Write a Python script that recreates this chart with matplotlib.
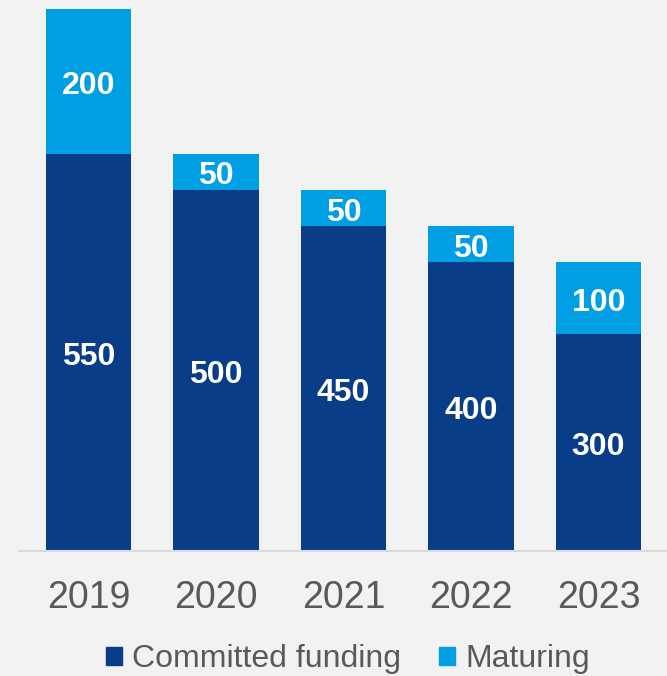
import matplotlib.pyplot as plt
import numpy as np
from matplotlib.patches import Patch

years = ['2019', '2020', '2021', '2022', '2023']
committed = [550, 500, 450, 400, 300]
maturing = [200, 50, 50, 50, 100]

dark = '#0a3d87'
light = '#009fe3'
bg = '#f2f2f2'

plt.rcParams['font.family'] = ['Liberation Sans', 'DejaVu Sans']

fig = plt.figure(figsize=(6.67, 6.76), dpi=100, facecolor=bg)
ax = fig.add_axes([19 / 667, 125 / 676, 648 / 667, 542 / 676], facecolor=bg)

x = np.arange(len(years))
w = 0.667
ax.bar(x, committed, w, color=dark, label='Committed funding')
ax.bar(x, maturing, w, bottom=committed, color=light, label='Maturing')

# labels in the middle of each segment (nudged down a little)
for i in range(len(years)):
    ax.annotate(str(committed[i]), (x[i], committed[i] / 2), xytext=(0, -3.5),
                textcoords='offset points', ha='center', va='center',
                color='white', fontsize=23, fontweight='bold')
    ax.annotate(str(maturing[i]), (x[i], committed[i] + maturing[i] / 2), xytext=(0, -3.5),
                textcoords='offset points', ha='center', va='center',
                color='white', fontsize=23, fontweight='bold')

ax.set_xlim(-0.545, 4.537)
ax.set_ylim(0, 750)
for s in ['top', 'right', 'left']:
    ax.spines[s].set_visible(False)
ax.spines['bottom'].set_color('#d9d9d9')
ax.spines['bottom'].set_linewidth(1.5)
ax.set_yticks([])
ax.set_xticks(x)
ax.set_xticklabels(years, fontsize=27, color='#595959')
ax.tick_params(axis='x', length=0, pad=21)

handles = [Patch(color=dark, label='Committed funding'), Patch(color=light, label='Maturing')]
fig.legend(handles=handles, loc='center', bbox_to_anchor=(348 / 667, 1 - 659 / 676), ncol=2,
           frameon=False, fontsize=23, handlelength=0.48, handleheight=0.48,
           handletextpad=0.32, columnspacing=1.2, labelcolor='#595959',
           borderpad=0, borderaxespad=0)

fig.savefig('out.png', dpi=100, facecolor=bg)
